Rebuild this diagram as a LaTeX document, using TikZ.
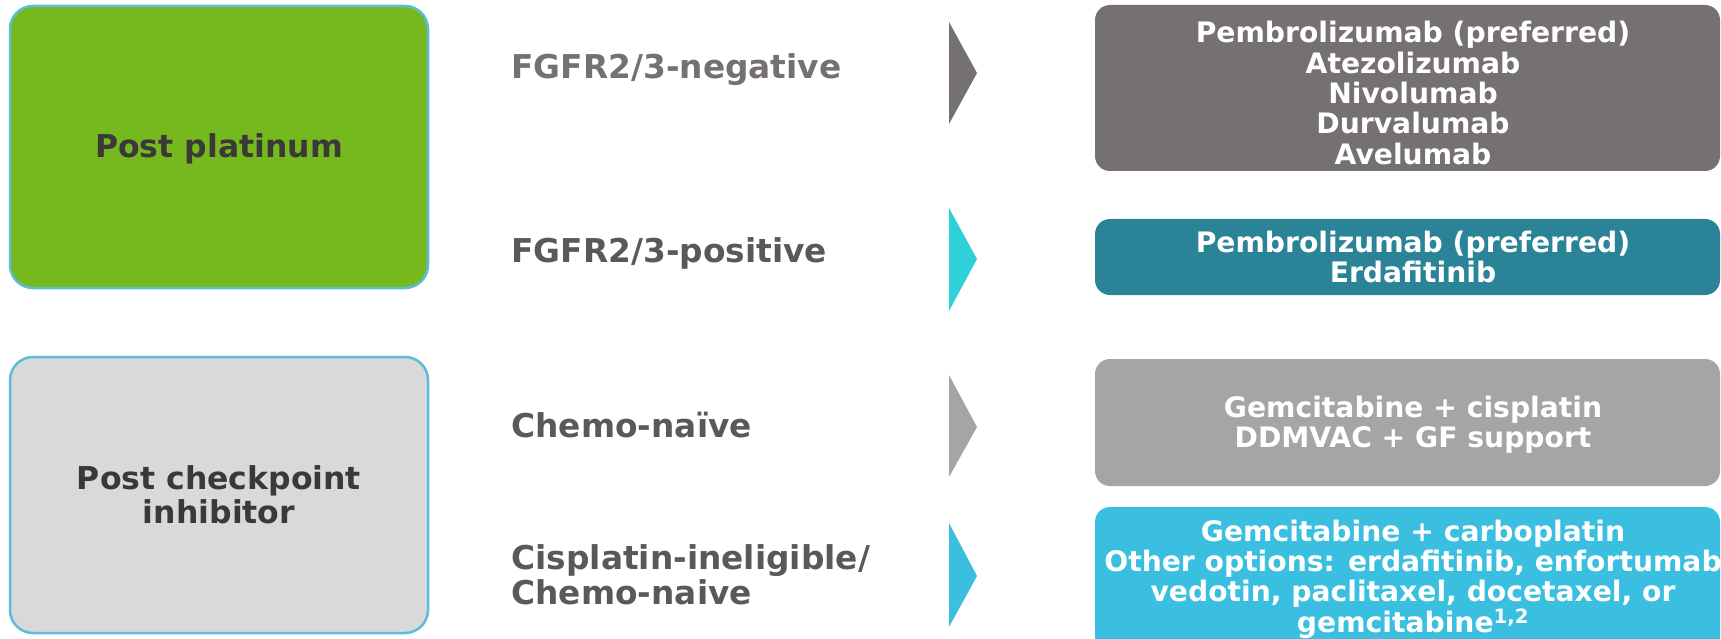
\documentclass[tikz,border=0pt]{standalone}
\usepackage{fontspec}
\setmainfont{DejaVu Sans}
\definecolor{cgreen}{HTML}{76B91F}
\definecolor{clgray}{HTML}{D9D9D9}
\definecolor{cborder}{HTML}{5BBDD8}
\definecolor{cdark}{HTML}{3B3838}
\definecolor{cgray1}{HTML}{767171}
\definecolor{clabel}{HTML}{595959}
\definecolor{cteal}{HTML}{2A8397}
\definecolor{cmid}{HTML}{A5A5A5}
\definecolor{csky}{HTML}{3ABFE0}
\definecolor{ccyan}{HTML}{2FD0D9}
\begin{document}
\begin{tikzpicture}[x=1pt,y=-1pt,
  catbox/.style={draw=cborder,line width=2.5pt,rounded corners=23pt},
  cattext/.style={text=cdark,font=\fontsize{31.5}{34}\selectfont\bfseries,align=center},
  lbl/.style={anchor=west,text=clabel,font=\fontsize{32.8}{35}\selectfont\bfseries,align=left},
  rxbox/.style={rounded corners=15pt},
  rxtext/.style={text=white,font=\fontsize{28.2}{30.3}\selectfont\bfseries,align=center}]
\useasboundingbox (0,0) rectangle (1721,639);
% left category boxes
\filldraw[catbox,fill=cgreen] (10,6) rectangle (428,288);
\filldraw[catbox,fill=clgray] (10,357) rectangle (428,633);
\node[cattext] (pp) at (219,149) {Post platinum};
\node[cattext] (pci) at (219,495) {Post checkpoint\\inhibitor};
% labels
\node[lbl,text=cgray1] (l1) at (508,70) {FGFR2/3-negative};
\node[lbl] (l2) at (508,253) {FGFR2/3-positive};
\node[lbl] (l3) at (508,425) {Chemo-naïve};
\node[lbl] (l4) at (508,575) {Cisplatin-ineligible/\\Chemo-naive};
% chevrons
\fill[cgray1] (949,22) -- (977,73) -- (949,124) -- cycle;
\fill[ccyan] (949,208) -- (977,259) -- (949,311) -- cycle;
\fill[cmid] (949,375) -- (977,427) -- (949,477) -- cycle;
\fill[csky] (949,523) -- (977,576) -- (949,627) -- cycle;
% right treatment boxes
\fill[rxbox,cgray1] (1095,5) rectangle (1720,171);
\fill[rxbox,cteal] (1095,219) rectangle (1720,295);
\fill[rxbox,cmid] (1095,359) rectangle (1720,486);
\fill[rxbox,csky] (1095,507) rectangle (1720,660);
\node[rxtext] (r1) at (1413,93) {Pembrolizumab (preferred)\\Atezolizumab\\Nivolumab\\Durvalumab\\Avelumab};
\node[rxtext] (r2) at (1413,257) {Pembrolizumab (preferred)\\Erdafitinib};
\node[rxtext] (r3) at (1413,425) {Gemcitabine + cisplatin\\DDMVAC + GF support};
\node[rxtext] (r4) at (1413,579) {Gemcitabine + carboplatin\\Other options: erdafitinib, enfortumab\\vedotin, paclitaxel, docetaxel, or\\gemcitabine\textsuperscript{1,2}};
\end{tikzpicture}
\end{document}
